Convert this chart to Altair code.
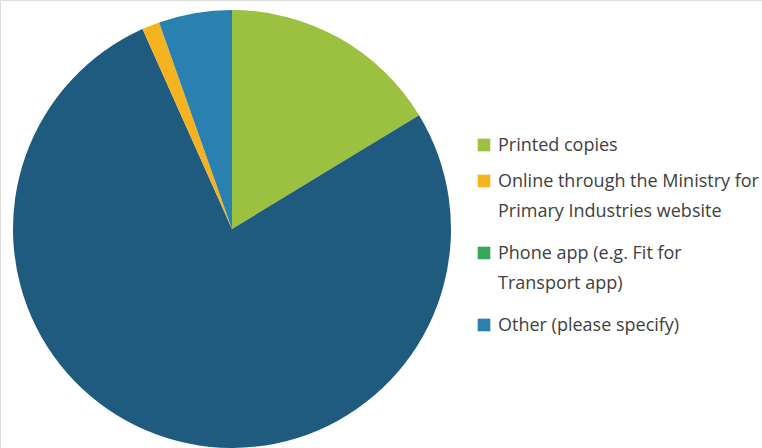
import altair as alt
import pandas as pd

# Pie slices, clockwise from 12 o'clock
categories = [
    "Printed copies",
    "Unlabelled",
    "Online through the Ministry for Primary Industries website",
    "Phone app (e.g. Fit for Transport app)",
    "Other (please specify)",
]
values = [16.3, 77.0, 1.3, 0.0, 5.4]
colors = ["#9cc03f", "#1f5b7e", "#f5b31f", "#37a85a", "#2a80ae"]

# Legend entries (the navy slice has no legend entry in the source)
legend_categories = [
    "Printed copies",
    "Online through the Ministry for Primary Industries website",
    "Phone app (e.g. Fit for Transport app)",
    "Other (please specify)",
]
legend_lines = [
    ["Printed copies"],
    ["Online through the Ministry for", "Primary Industries website"],
    ["Phone app (e.g. Fit for", "Transport app)"],
    ["Other (please specify)"],
]

pie_df = pd.DataFrame({"category": categories, "value": values, "order": list(range(len(categories)))})

rows = []
line_pos = 0
for cat, lines in zip(legend_categories, legend_lines):
    rows.append({"category": cat, "lines": lines, "row": line_pos})
    line_pos += len(lines)
legend_df = pd.DataFrame(rows)

color_scale = alt.Scale(domain=categories, range=colors)

pie = alt.Chart(pie_df).mark_arc(outerRadius=219).encode(
    theta=alt.Theta("value:Q", stack=True),
    color=alt.Color("category:N", scale=color_scale, legend=None),
    order=alt.Order("order:Q"),
    x=alt.value(232),
    y=alt.value(229),
)

yscale = alt.Scale(domain=[0, 5], range=[145, 325])

swatches = alt.Chart(legend_df).mark_square(size=160, opacity=1).encode(
    x=alt.value(484),
    y=alt.Y("row:Q", scale=yscale, axis=None),
    color=alt.Color("category:N", scale=color_scale, legend=None),
)

labels = alt.Chart(legend_df).mark_text(
    align="left", baseline="top", dy=-8, fontSize=18, lineHeight=30,
    font="Open Sans", color="#404040",
).encode(
    x=alt.value(498),
    y=alt.Y("row:Q", scale=yscale, axis=None),
    text="lines",
)

chart = alt.layer(pie, swatches, labels).properties(
    width=762, height=448, autosize=alt.AutoSizeParams(type="none"), padding=0,
).configure_view(stroke=None).configure(background="white")

chart.save("out.html", embed_options={"renderer": "svg", "actions": False})
